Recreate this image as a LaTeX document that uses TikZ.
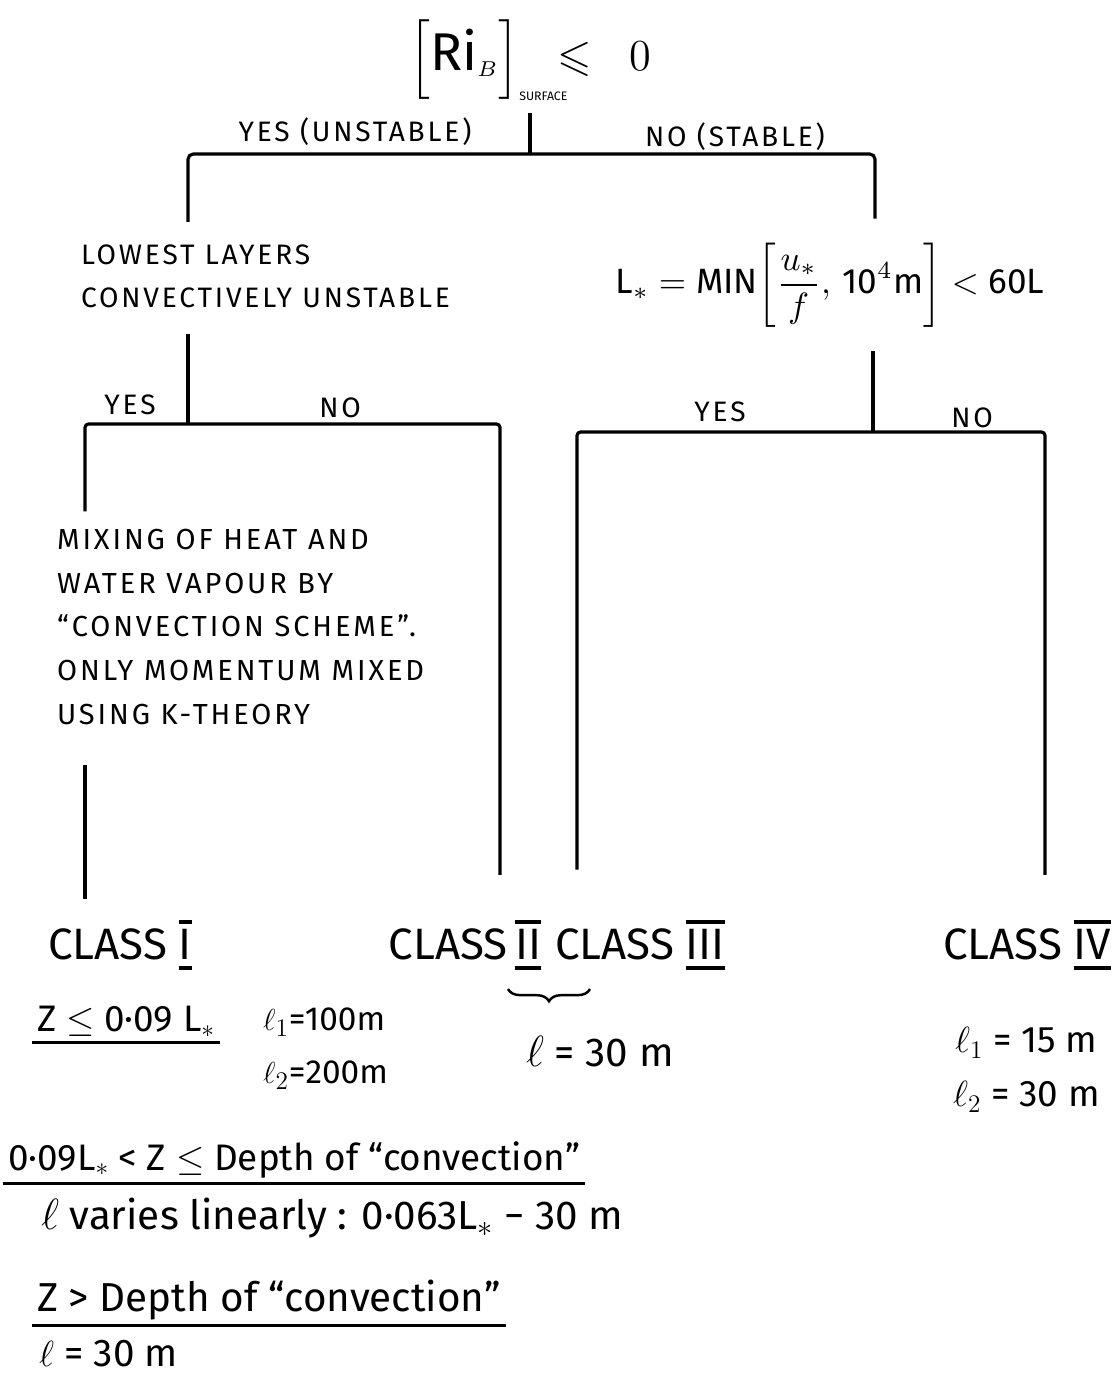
\documentclass[tikz,border=0pt]{standalone}
\usepackage{amsmath,amssymb,mathtools}
\usepackage{fontspec}
\setmainfont{Fira Sans}
\newfontfamily\handcaps[LetterSpace=10.0]{Fira Sans}
\usetikzlibrary{positioning,decorations.pathreplacing}
\newcommand{\clsnum}[1]{\sbox0{#1}\rlap{\rule[-6pt]{\wd0}{1.8pt}}\rlap{\rule[\dimexpr\ht0+3pt\relax]{\wd0}{1.8pt}}\usebox0}

\begin{document}
\begin{tikzpicture}[x=0.02cm, y=-0.02cm, line width=1.8pt,
  cond/.style={font=\handcaps\fontsize{16}{24.5}\selectfont, align=left, inner sep=2pt},
  ans/.style={font=\handcaps\fontsize{16}{20}\selectfont, inner sep=1pt},
  cls/.style={font=\fontsize{25}{30}\selectfont, inner sep=2pt},
  note/.style={font=\fontsize{21}{24}\selectfont, inner sep=2pt},
  val/.style={font=\fontsize{23}{28}\selectfont, inner sep=2pt},
  formula/.style={inner sep=2pt, scale=#1}
]
\useasboundingbox (0,0) rectangle (1113,1380);

% decision nodes
\node[formula=1.75] (rib) at (530,60) {\Large $\Bigl[\text{\LARGE Ri}_{\scriptscriptstyle B}\Bigr]_{\mathrlap{\mbox{\fontsize{4}{5}\selectfont SURFACE}}}\;\;\leqslant\;\; 0$};
\node[ans] (yes1) at (355,132) {YES (UNSTABLE)};
\node[ans] (no1) at (735,137) {NO (STABLE)};
\node[cond, anchor=west] (low) at (76,276) {LOWEST LAYERS\\CONVECTIVELY UNSTABLE};
\node[formula=2.0] (lstar) at (830,285) {$\text{L}_* = \text{MIN}\biggl[\dfrac{u_*}{f},\,\text{10}^4\text{m}\biggr] < \text{60L}$};
\node[ans] (yes2) at (130,405) {YES};
\node[ans] (no2) at (340,408) {NO};
\node[ans] (yes3) at (720,412) {YES};
\node[ans] (no3) at (972,418) {NO};
\node[cond, anchor=west, font=\handcaps\fontsize{16.5}{25}\selectfont] (mix) at (52,627) {MIXING OF HEAT AND\\WATER VAPOUR BY\\“CONVECTION SCHEME”.\\ONLY MOMENTUM MIXED\\USING K-THEORY};

% classes
\node[cls] (cls1) at (120,945) {CLASS \clsnum{I}};
\node[cls] (cls2) at (465,945) {CLASS\,\clsnum{II}};
\node[cls] (cls3) at (640,945) {CLASS \clsnum{III}};
\node[cls] (cls4) at (1027,945) {CLASS \clsnum{IV}};

% branch points
\coordinate (j1) at (530,154);
\coordinate (j1l) at (188,154);
\coordinate (j1r) at (875,154);
\coordinate (j2) at (188,424);
\coordinate (j2l) at (85,424);
\coordinate (j2r) at (500,424);
\coordinate (j3) at (873,432);
\coordinate (j3l) at (577,432);
\coordinate (j3r) at (1045,432);

\draw[shorten <=2pt] (j1 |- rib.south) -- (j1);
\draw[rounded corners=3pt, shorten <=10pt, shorten >=8pt] (j1l |- low.north) -- (j1l) -- (j1r) -- (j1r |- lstar.north);
\draw[shorten <=12pt] (j2 |- low.south) -- (j2);
\draw[rounded corners=2pt, shorten <=7pt, shorten >=23pt] (j2l |- mix.north) -- (j2l) -- (j2r) -- (j2r |- cls2.north);
\draw[shorten <=20pt, shorten >=9pt] (j2l |- mix.south) -- (j2l |- cls1.north);
\draw[shorten <=8pt] (j3 |- lstar.south) -- (j3);
\draw[rounded corners=2pt, shorten <=26pt, shorten >=23pt] (j3l |- cls3.north) -- (j3l) -- (j3r) -- (j3r |- cls4.north);

% lengths
\coordinate (br1) at (508,989);
\coordinate (br2) at (590,989);
\draw[decorate, decoration={brace, mirror, amplitude=7pt}, line width=1.4pt] (br1) -- (br2);
\node[val] (l23) at (600,1052) {$\ell$ = 30 m};
\node[note, anchor=west] (zle) at (32,1022) {Z $\leq$ 0·09 L$_*$};
\draw (zle.south west) -- (zle.south east);
\node[note, font=\fontsize{19}{24}\selectfont, anchor=west] (l1a) at (258,1022) {$\ell_1$=100m};
\node[note, font=\fontsize{19}{24}\selectfont, anchor=west] (l2a) at (258,1075) {$\ell_2$=200m};
\node[note, anchor=west] (l1b) at (950,1043) {$\ell_1$ = 15 m};
\node[note, anchor=west] (l2b) at (948,1097) {$\ell_2$ = 30 m};
\node[note, anchor=west] (zmid) at (3,1160) {0·09L$_*$ < Z $\leq$ Depth of “convection”};
\draw (zmid.south west) -- (zmid.south east);
\node[val, anchor=west] (lvar) at (36,1218) {$\ell$ varies linearly : 0·063L$_*$ − 30 m};
\node[val, anchor=west] (zgt) at (32,1300) {Z > Depth of “convection”};
\draw (zgt.south west) -- (zgt.south east);
\node[val, anchor=west, font=\fontsize{22}{26}\selectfont] (l30) at (34,1354) {$\ell$ = 30 m};
\end{tikzpicture}
\end{document}
